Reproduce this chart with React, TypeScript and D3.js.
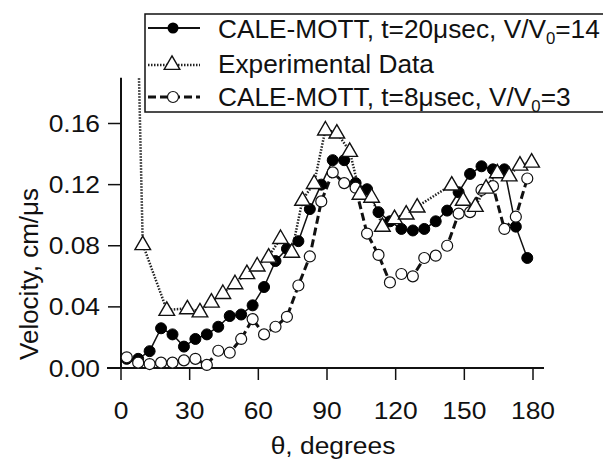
import React from "react";
import * as d3 from "d3";

// ---- data ----
const modelAngles = [
  2.5, 7.5, 12.5, 17.5, 22.5, 27.5, 32.5, 37.5, 42.5, 47.5, 52.5, 57.5, 62.5, 67.5, 72.5, 77.5, 82.5, 87.5,
  92.5, 97.5, 102.5, 107.5, 112.5, 117.5, 122.5, 127.5, 132.5, 137.5, 142.5, 147.5, 152.5, 157.5, 162.5,
  167.5, 172.5, 177.5,
];
const cm20Values = [
  0.006, 0.006, 0.011, 0.026, 0.022, 0.014, 0.019, 0.022, 0.027, 0.034, 0.035, 0.041, 0.053, 0.07, 0.078,
  0.083, 0.104, 0.12, 0.136, 0.136, 0.121, 0.117, 0.102, 0.096, 0.091, 0.09, 0.091, 0.096, 0.103, 0.115,
  0.127, 0.132, 0.13, 0.13, 0.0925, 0.072,
];
const cm8Values = [
  0.007, 0.0035, 0.0026, 0.0035, 0.0035, 0.005, 0.006, 0.002, 0.0113, 0.01, 0.019, 0.032, 0.022, 0.027,
  0.0335, 0.054, 0.073, 0.109, 0.128, 0.121, 0.118, 0.088, 0.074, 0.056, 0.0615, 0.06, 0.072, 0.0735, 0.08,
  0.101, 0.102, 0.1165, 0.119, 0.091, 0.099, 0.124,
];
const expAngles = [
  5, 9.5, 20, 29, 34.5, 39.5, 44.5, 49.8, 55, 59.5, 64.5, 69.7, 74.6, 79.3, 84.4, 89.3, 94.3, 99.9, 104.4,
  109.5, 114.2, 119.5, 124.6, 129.4, 144.5, 149.5, 154.8, 159.5, 164.4, 169.6, 174.3, 179.4,
];
const expValues = [
  0.38, 0.081, 0.038, 0.039, 0.037, 0.0434, 0.049, 0.0554, 0.062, 0.067, 0.0728, 0.085, 0.076, 0.11, 0.121,
  0.156, 0.154, 0.142, 0.114, 0.112, 0.093, 0.098, 0.101, 0.1056, 0.12, 0.11, 0.106, 0.118, 0.128, 0.126,
  0.133, 0.135,
];
const xTicks = [0, 30, 60, 90, 120, 150, 180];
const yTicks = [0, 0.04, 0.08, 0.12, 0.16];
const yTop = 0.19;

const FONT = "'Liberation Sans', Arial, Helvetica, sans-serif";

export default function App() {
  const x = d3.scaleLinear().domain([0, 180]).range([121, 533]);
  const y = d3.scaleLinear().domain([0, 0.16]).range([368, 123.5]);

  const line = d3
    .line<[number, number]>()
    .x((d) => x(d[0]))
    .y((d) => y(d[1]));

  const cm20 = modelAngles.map((a, i) => [a, cm20Values[i]] as [number, number]);
  const cm8 = modelAngles.map((a, i) => [a, cm8Values[i]] as [number, number]);
  const exp = expAngles.map((a, i) => [a, expValues[i]] as [number, number]);

  const tri = (cx: number, cy: number) => {
    const w = 7.8,
      h = 13.5;
    return `M${cx},${cy - h * 0.6}L${cx + w},${cy + h * 0.4}L${cx - w},${cy + h * 0.4}Z`;
  };

  const y0 = y(0);
  const yT = y(yTop);

  return (
    <svg width={603} height={460} style={{ display: "block", position: "absolute", left: 0, top: 0 }}>
      <rect width={603} height={460} fill="#fff" />
      <defs>
        <clipPath id="plotclip">
          <rect x={100} y={yT} width={503} height={460 - yT} />
        </clipPath>
      </defs>

      {/* axes */}
      <line x1={107} x2={544} y1={y0} y2={y0} stroke="#111" strokeWidth={2} />
      <line x1={x(0)} x2={x(0)} y1={yT} y2={y0} stroke="#111" strokeWidth={2} />
      {xTicks.map((t) => (
        <g key={"xt" + t}>
          <line x1={x(t)} x2={x(t)} y1={y0} y2={y0 + 12} stroke="#111" strokeWidth={1.5} />
          <text
            transform={`translate(${x(t)},419) scale(1.1,1)`}
            textAnchor="middle"
            fontFamily={FONT}
            fontSize={24}
            fill="#111"
          >
            {t}
          </text>
        </g>
      ))}
      {yTicks.map((t) => (
        <g key={"yt" + t}>
          <line x1={108} x2={x(0)} y1={y(t)} y2={y(t)} stroke="#111" strokeWidth={1.5} />
          <text
            transform={`translate(100,${y(t) + 8.5}) scale(1.1,1)`}
            textAnchor="end"
            fontFamily={FONT}
            fontSize={24}
            fill="#111"
          >
            {t.toFixed(2)}
          </text>
        </g>
      ))}
      <text
        transform={`translate(333,454) scale(1.1,1)`}
        textAnchor="middle"
        fontFamily={FONT}
        fontSize={24}
        fill="#111"
      >
        θ, degrees
      </text>
      <text
        transform={`translate(38,274) rotate(-90)`}
        textAnchor="middle"
        fontFamily={FONT}
        fontSize={26}
        fill="#111"
      >
        Velocity, cm/μs
      </text>

      {/* series */}
      <g clipPath="url(#plotclip)">
        <path d={line(cm20) || ""} fill="none" stroke="#111" strokeWidth={1.5} />
        <path d={line(cm8) || ""} fill="none" stroke="#111" strokeWidth={3} strokeDasharray="8,4" />
        <path d={line(exp) || ""} fill="none" stroke="#222" strokeWidth={2.5} strokeDasharray="1.5,1.5" />
        {cm20.map((d, i) => (
          <circle key={"f" + i} cx={x(d[0])} cy={y(d[1])} r={5.5} fill="#000" stroke="#000" strokeWidth={1} />
        ))}
        {cm8.map((d, i) => (
          <circle key={"o" + i} cx={x(d[0])} cy={y(d[1])} r={5.5} fill="#fff" stroke="#111" strokeWidth={1.2} />
        ))}
        {exp.map((d, i) => (
          <path key={"t" + i} d={tri(x(d[0]), y(d[1]))} fill="#fff" stroke="#111" strokeWidth={1.4} />
        ))}
      </g>

      {/* legend */}
      <rect x={145} y={14} width={500} height={98} fill="#fff" stroke="#111" strokeWidth={1.5} />
      <g>
        <line x1={148} x2={200} y1={28} y2={28} stroke="#111" strokeWidth={2} />
        <circle cx={173} cy={28} r={5.5} fill="#000" />
        <text transform="translate(218,38) scale(1.05,1)" fontFamily={FONT} fontSize={25} fill="#111">
          CALE-MOTT, t=20μsec, V/V
          <tspan fontSize={16} dy={6}>
            0
          </tspan>
          <tspan dy={-6}>=14</tspan>
        </text>
      </g>
      <g>
        <line x1={148} x2={200} y1={65} y2={65} stroke="#222" strokeWidth={2.5} strokeDasharray="1.5,1.5" />
        <path d={tri(172, 64)} fill="#fff" stroke="#111" strokeWidth={1.4} />
        <text transform="translate(218,73) scale(1.05,1)" fontFamily={FONT} fontSize={25} fill="#111">
          Experimental Data
        </text>
      </g>
      <g>
        <line x1={148} x2={200} y1={97} y2={97} stroke="#111" strokeWidth={3} strokeDasharray="8,4" />
        <circle cx={173} cy={97} r={5.5} fill="#fff" stroke="#111" strokeWidth={1.2} />
        <text transform="translate(218,106) scale(1.05,1)" fontFamily={FONT} fontSize={25} fill="#111">
          CALE-MOTT, t=8μsec, V/V
          <tspan fontSize={16} dy={6}>
            0
          </tspan>
          <tspan dy={-6}>=3</tspan>
        </text>
      </g>
    </svg>
  );
}
